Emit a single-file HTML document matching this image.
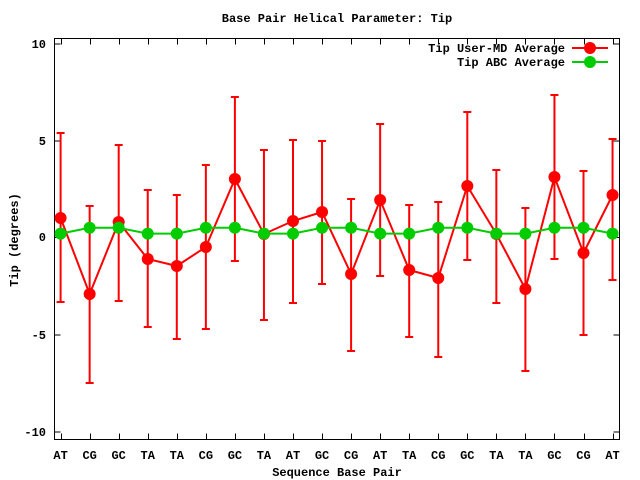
<!DOCTYPE html>
<html><head><style>body{margin:0;background:#fff}svg{display:block}text{font-family:"Liberation Mono",monospace;font-weight:bold;font-size:12px}</style></head><body>
<svg width="640" height="480" xmlns="http://www.w3.org/2000/svg">
<text x="337" y="22" text-anchor="middle">Base Pair Helical Parameter: Tip</text>
<g stroke="#000" stroke-width="1" fill="none">
<rect x="54.5" y="38.5" width="565" height="401"/>
<path d="M54.5 44h6M54.5 141h6M54.5 237.5h6M54.5 335h6M54.5 432h6M619.5 44h-6M619.5 141h-6M619.5 237.5h-6M619.5 335h-6M619.5 432h-6"/>
</g>
<g font-size="12" text-anchor="end">
<text x="46" y="48">10</text><text x="46" y="145">5</text><text x="46" y="241">0</text><text x="46" y="339">-5</text><text x="46" y="436">-10</text>
</g>
<text transform="translate(18,240) rotate(-90)" text-anchor="middle">Tip (degrees)</text>
<text x="337" y="476" text-anchor="middle">Sequence Base Pair</text>
<g id="labels" text-anchor="middle"></g>
<g id="ticks" stroke="#000"></g>
<g id="err" stroke="#f00" stroke-width="2"></g>
<polyline id="rl" fill="none" stroke="#f00" stroke-width="2"/>
<polyline id="gl" fill="none" stroke="#0c0" stroke-width="2"/>
<g id="rm" fill="#f00"></g><g id="gm" fill="#0c0"></g>
<text x="565" y="52" text-anchor="end">Tip User-MD Average</text>
<text x="565" y="66" text-anchor="end">Tip ABC Average</text>
<path d="M572 48h36" stroke="#f00" stroke-width="2"/>
<path d="M572 62h36" stroke="#0c0" stroke-width="2"/>
<circle cx="590" cy="48" r="6" fill="#f00"/><circle cx="590" cy="62" r="6" fill="#0c0"/>
<script>
var ns="http://www.w3.org/2000/svg";
var L=["AT","CG","GC","TA","TA","CG","GC","TA","AT","GC","CG","AT","TA","CG","GC","TA","TA","GC","CG","AT"];
var R=[[218,133,302],[294,206,383],[222,145,301],[259,190,327],[266,195,339],[247,165,329],[179,97,261],[234,150,320],[221,140,303],[212,141,284],[274,199,351],[200,124,276],[270,205,337],[278,202,357],[186,112,260],[234,170,303],[289,208,371],[177,95,259],[253,171,335],[195,139,280]];
var G=[.2,.5,.5,.2,.2,.5,.5,.2,.2,.5,.5,.2,.2,.5,.5,.2,.2,.5,.5,.2];
function el(t,a,p){var e=document.createElementNS(ns,t);for(var k in a)e.setAttribute(k,a[k]);document.getElementById(p).appendChild(e);return e;}
var rp=[],gp=[];
for(var i=0;i<20;i++){var x=60.6+i*29.05;
var t=el("text",{x:x,y:459},"labels");t.textContent=L[i];
var xx=Math.round(x)+0.5;
el("path",{d:"M"+xx+" 439.5v-6M"+xx+" 38.5v6"},"ticks");
var r=R[i];
el("path",{d:"M"+x+" "+r[1]+"V"+r[2]+"M"+(x-4)+" "+r[1]+"h8M"+(x-4)+" "+r[2]+"h8"},"err");
rp.push(x+","+r[0]);var gy=237.5-G[i]*19.4;gp.push(x+","+gy);
el("circle",{cx:x,cy:r[0],r:6},"rm");el("circle",{cx:x,cy:gy,r:6},"gm");}
document.getElementById("rl").setAttribute("points",rp.join(" "));
document.getElementById("gl").setAttribute("points",gp.join(" "));
</script>
</svg></body></html>
